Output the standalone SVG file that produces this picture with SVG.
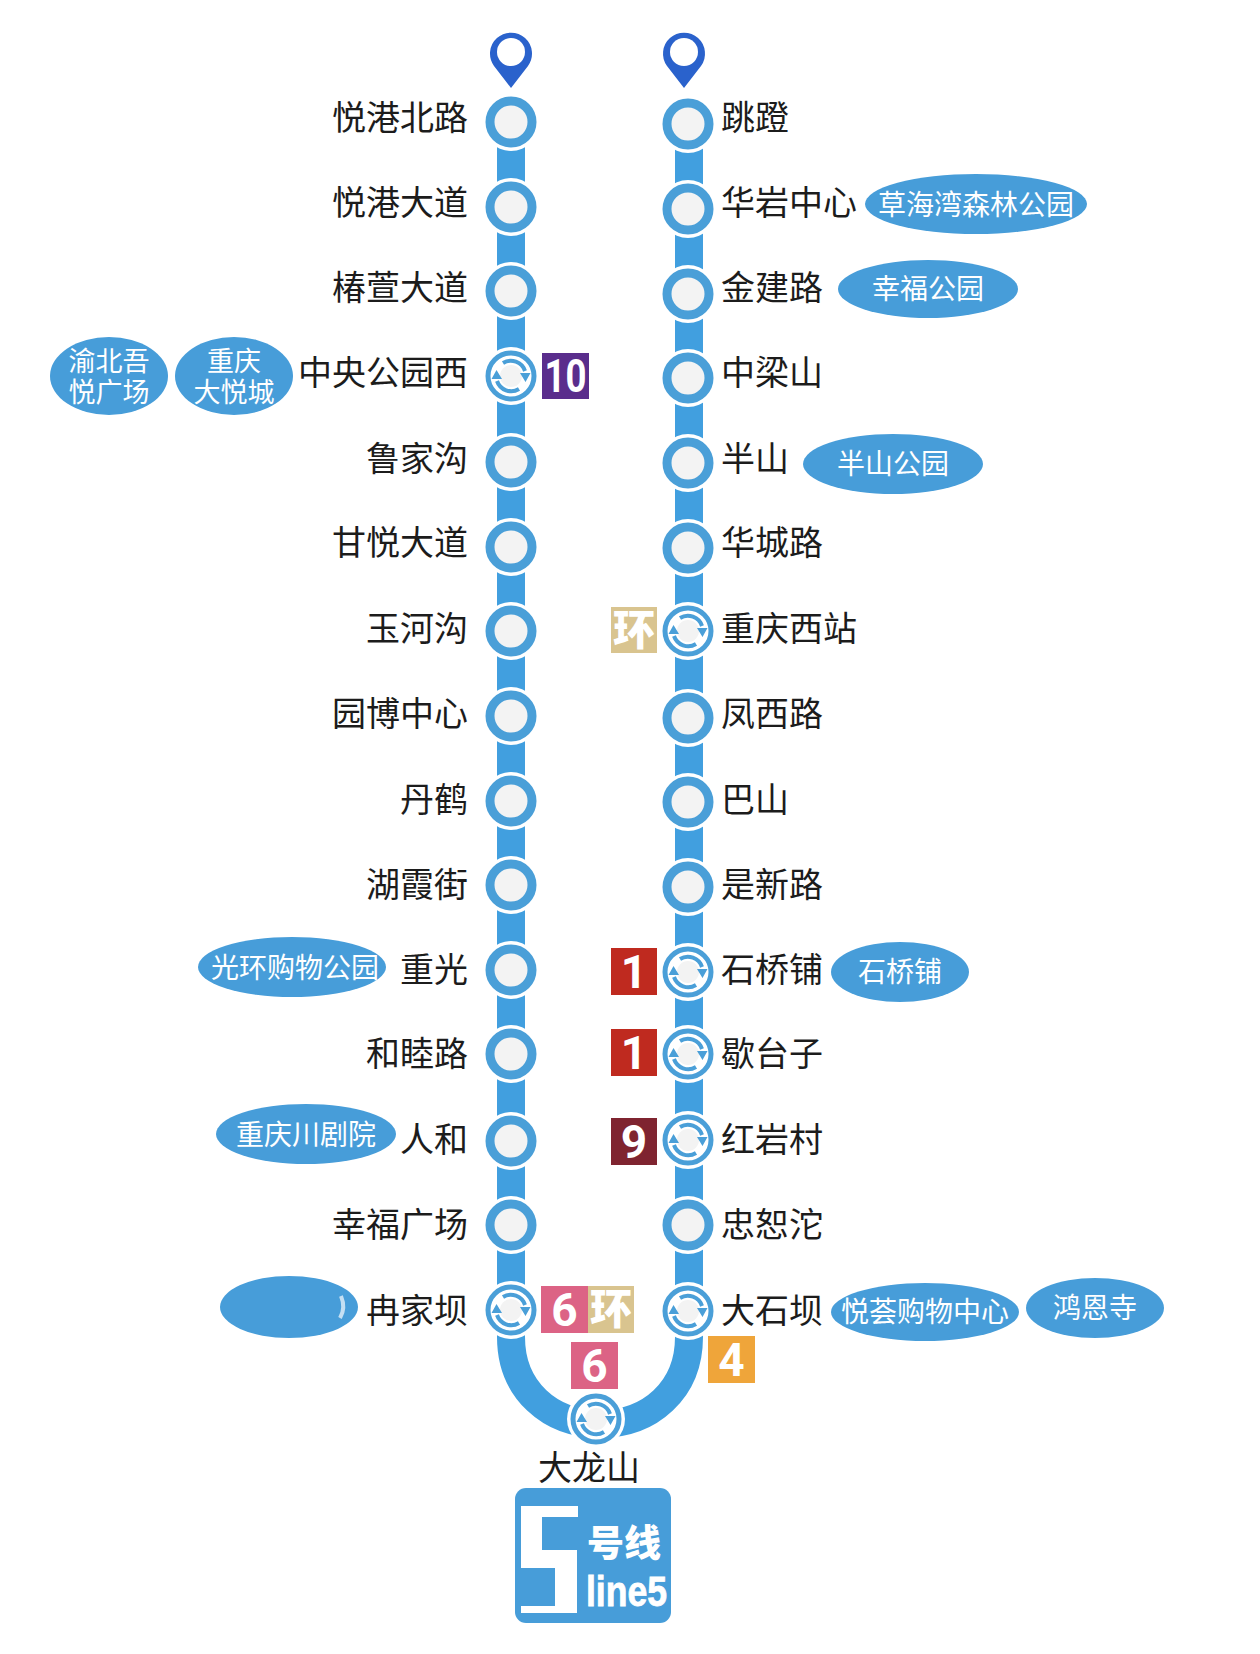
<svg xmlns="http://www.w3.org/2000/svg" width="1260" height="1654" viewBox="0 0 1260 1654">
<style>
text{font-family:"Noto Sans CJK SC","Noto Sans",sans-serif}
.l{font-size:34px;fill:#1c1c1c;text-anchor:end}
.r{font-size:34px;fill:#1c1c1c}
.c{font-size:34px;fill:#1c1c1c;text-anchor:middle}
.p{fill:#479dd9}
.pt{font-size:28px;fill:#fff;text-anchor:middle}
.pt2{font-size:27px;fill:#fff;text-anchor:middle}
.b{font-family:"Roboto","Liberation Sans",sans-serif;font-weight:700;font-size:46px;fill:#fff;text-anchor:middle}
.bz{font-weight:900;font-size:42px;fill:#fff;text-anchor:middle}
.line{fill:none;stroke:#419fdf;stroke-width:28}
.pin{fill:#2a62cc}
</style>
<defs>
<g id="st">
<circle r="29" fill="#fff"/>
<circle r="21" fill="#f3f3f3" stroke="#4a9fd8" stroke-width="9"/>
</g>
<g id="xf">
<circle r="29" fill="#fff"/>
<circle r="23" fill="#fff" stroke="#4a9fd8" stroke-width="5"/>
<circle r="11" fill="#f3f3f3"/>
<path d="M-8 -13A15 15 0 0 1 14 -5M8 13A15 15 0 0 1 -14 5" fill="none" stroke="#4a9fd8" stroke-width="4"/>
<path d="M9 -3L19.500 -3L14.500 6ZM-9 3L-19.500 3L-14.500 -6Z" fill="#4a9fd8"/>
</g>
</defs>
<rect width="1260" height="1654" fill="#fff"/>
<g id="connectors">
<path class="line" d="M511 122V1337C511 1390 550 1424 600 1424C650 1424 689 1390 689 1337V124"/>
</g>
<g id="pin-left"><path class="pin" d="M511 88L494 66A21 21 0 1 1 528 66Z"/><circle cx="511" cy="52" r="14" fill="#fff"/></g>
<g id="pin-right"><path class="pin" d="M684 88L667 66A21 21 0 1 1 701 66Z"/><circle cx="684" cy="52" r="14" fill="#fff"/></g>

<g id="s-yuegangbeilu"><use href="#st" x="511" y="122"/><text class="l" x="468" y="130">悦港北路</text></g>
<g id="s-yuegangdadao"><use href="#st" x="511" y="207"/><text class="l" x="468" y="215">悦港大道</text></g>
<g id="s-chunxuandadao"><use href="#st" x="511" y="291"/><text class="l" x="468" y="300">椿萱大道</text></g>
<g id="s-zhongyanggongyuanxi"><use href="#xf" x="511" y="376"/><text class="l" x="468" y="385">中央公园西</text></g>
<g id="s-lujiagou"><use href="#st" x="511" y="462"/><text class="l" x="468" y="471">鲁家沟</text></g>
<g id="s-ganyuedadao"><use href="#st" x="511" y="547"/><text class="l" x="468" y="555">甘悦大道</text></g>
<g id="s-yuhegou"><use href="#st" x="511" y="631"/><text class="l" x="468" y="641">玉河沟</text></g>
<g id="s-yuanbozhongxin"><use href="#st" x="511" y="716"/><text class="l" x="468" y="726">园博中心</text></g>
<g id="s-danhe"><use href="#st" x="511" y="801"/><text class="l" x="468" y="812">丹鹤</text></g>
<g id="s-huxiajie"><use href="#st" x="511" y="885"/><text class="l" x="468" y="897">湖霞街</text></g>
<g id="s-chongguang"><use href="#st" x="511" y="970"/><text class="l" x="468" y="982">重光</text></g>
<g id="s-hemulu"><use href="#st" x="511" y="1054"/><text class="l" x="468" y="1066">和睦路</text></g>
<g id="s-renhe"><use href="#st" x="511" y="1141"/><text class="l" x="468" y="1152">人和</text></g>
<g id="s-xingfuguangchang"><use href="#st" x="511" y="1225"/><text class="l" x="468" y="1237">幸福广场</text></g>
<g id="s-ranjiaba"><use href="#xf" x="511" y="1310"/><text class="l" x="468" y="1323">冉家坝</text></g>

<g id="s-tiaodeng"><use href="#st" x="688" y="124"/><text class="r" x="721" y="130">跳蹬</text></g>
<g id="s-huayanzhongxin"><use href="#st" x="688" y="209"/><text class="r" x="721" y="215">华岩中心</text></g>
<g id="s-jinjianlu"><use href="#st" x="688" y="294"/><text class="r" x="721" y="300">金建路</text></g>
<g id="s-zhongliangshan"><use href="#st" x="688" y="378"/><text class="r" x="721" y="385">中梁山</text></g>
<g id="s-banshan"><use href="#st" x="688" y="463"/><text class="r" x="721" y="471">半山</text></g>
<g id="s-huachenglu"><use href="#st" x="688" y="548"/><text class="r" x="721" y="555">华城路</text></g>
<g id="s-chongqingxizhan"><use href="#xf" x="688" y="631"/><text class="r" x="721" y="641">重庆西站</text></g>
<g id="s-fengxilu"><use href="#st" x="688" y="718"/><text class="r" x="721" y="726">凤西路</text></g>
<g id="s-bashan"><use href="#st" x="688" y="802"/><text class="r" x="721" y="812">巴山</text></g>
<g id="s-shixinlu"><use href="#st" x="688" y="887"/><text class="r" x="721" y="897">是新路</text></g>
<g id="s-shiqiaopu"><use href="#xf" x="688" y="972"/><text class="r" x="721" y="982">石桥铺</text></g>
<g id="s-xietaizi"><use href="#xf" x="688" y="1054"/><text class="r" x="721" y="1066">歇台子</text></g>
<g id="s-hongyancun"><use href="#xf" x="688" y="1140"/><text class="r" x="721" y="1152">红岩村</text></g>
<g id="s-zhongshutuo"><use href="#st" x="688" y="1225"/><text class="r" x="721" y="1237">忠恕沱</text></g>
<g id="s-dashiba"><use href="#xf" x="688" y="1311"/><text class="r" x="721" y="1323">大石坝</text></g>
<g id="s-dalongshan"><use href="#xf" x="596" y="1419"/><text class="c" x="589" y="1480">大龙山</text></g>

<g id="badge-10"><rect x="542" y="353" width="47" height="46" fill="#5a2d8c"/><text class="b" x="565.500" y="392" textLength="42" lengthAdjust="spacingAndGlyphs">10</text></g>
<g id="badge-huan-1"><rect x="611" y="607" width="46" height="46" fill="#d9c48f"/><text class="bz" x="634" y="645">环</text></g>
<g id="badge-1a"><rect x="611" y="948" width="46" height="47" fill="#bf2a1f"/><text class="b" x="634" y="988">1</text></g>
<g id="badge-1b"><rect x="611" y="1029" width="46" height="47" fill="#bf2a1f"/><text class="b" x="634" y="1069">1</text></g>
<g id="badge-9"><rect x="611" y="1118" width="46" height="47" fill="#7f2430"/><text class="b" x="634" y="1158">9</text></g>
<g id="badge-6a"><rect x="541" y="1286" width="47" height="47" fill="#dc6385"/><text class="b" x="564.500" y="1326">6</text></g>
<g id="badge-huan-2"><rect x="588" y="1286" width="46" height="47" fill="#d9c48f"/><text class="bz" x="611" y="1324">环</text></g>
<g id="badge-6b"><rect x="571" y="1342" width="47" height="47" fill="#dc6385"/><text class="b" x="594.500" y="1382">6</text></g>
<g id="badge-4"><rect x="708" y="1336" width="47" height="47" fill="#efa53a"/><text class="b" x="731.500" y="1376">4</text></g>

<g id="p-caohaiwan"><ellipse class="p" cx="976" cy="204" rx="111" ry="30"/><text class="pt" x="976" y="215">草海湾森林公园</text></g>
<g id="p-xingfu"><ellipse class="p" cx="928" cy="289" rx="90" ry="29"/><text class="pt" x="928" y="299">幸福公园</text></g>
<g id="p-banshan"><ellipse class="p" cx="893" cy="464" rx="90" ry="30"/><text class="pt" x="893" y="474">半山公园</text></g>
<g id="p-shiqiaopu"><ellipse class="p" cx="900" cy="972" rx="69" ry="30"/><text class="pt" x="900" y="982">石桥铺</text></g>
<g id="p-yuehui"><ellipse class="p" cx="925" cy="1312" rx="94" ry="29"/><text class="pt" x="925" y="1322">悦荟购物中心</text></g>
<g id="p-hongensi"><ellipse class="p" cx="1095" cy="1308" rx="69" ry="30"/><text class="pt" x="1095" y="1318">鸿恩寺</text></g>
<g id="p-blur"><ellipse class="p" cx="289" cy="1307" rx="69" ry="31"/><path d="M341 1296Q346 1308 340 1318" fill="none" stroke="#e4f0f9" stroke-width="4" opacity=".8"/></g>
<g id="p-guanghuan"><ellipse class="p" cx="292" cy="967" rx="94" ry="30"/><text class="pt" x="295" y="978">光环购物公园</text></g>
<g id="p-chuanju"><ellipse class="p" cx="306" cy="1134" rx="90" ry="30"/><text class="pt" x="306" y="1145">重庆川剧院</text></g>
<g id="p-yubei"><ellipse class="p" cx="109" cy="376" rx="59" ry="39"/><text class="pt2" x="109" y="371">渝北吾</text><text class="pt2" x="109" y="402">悦广场</text></g>
<g id="p-daiyuecheng"><ellipse class="p" cx="234" cy="376" rx="59" ry="39"/><text class="pt2" x="234" y="371">重庆</text><text class="pt2" x="234" y="402">大悦城</text></g>

<g id="logo">
<rect x="515" y="1488" width="156" height="135" rx="11" fill="#479dd9"/>
<path d="M521 1506H578V1517H542V1550H577V1613H521V1606H555V1568H521Z" fill="#fff"/>
<text x="624" y="1557" font-size="37" font-weight="900" fill="#fff" text-anchor="middle">号线</text>
<text x="586" y="1606" font-size="42" font-weight="700" fill="#fff" stroke="#fff" stroke-width=".8" textLength="81" lengthAdjust="spacingAndGlyphs" style="font-family:'Liberation Sans',sans-serif">line5</text>
</g>
</svg>
